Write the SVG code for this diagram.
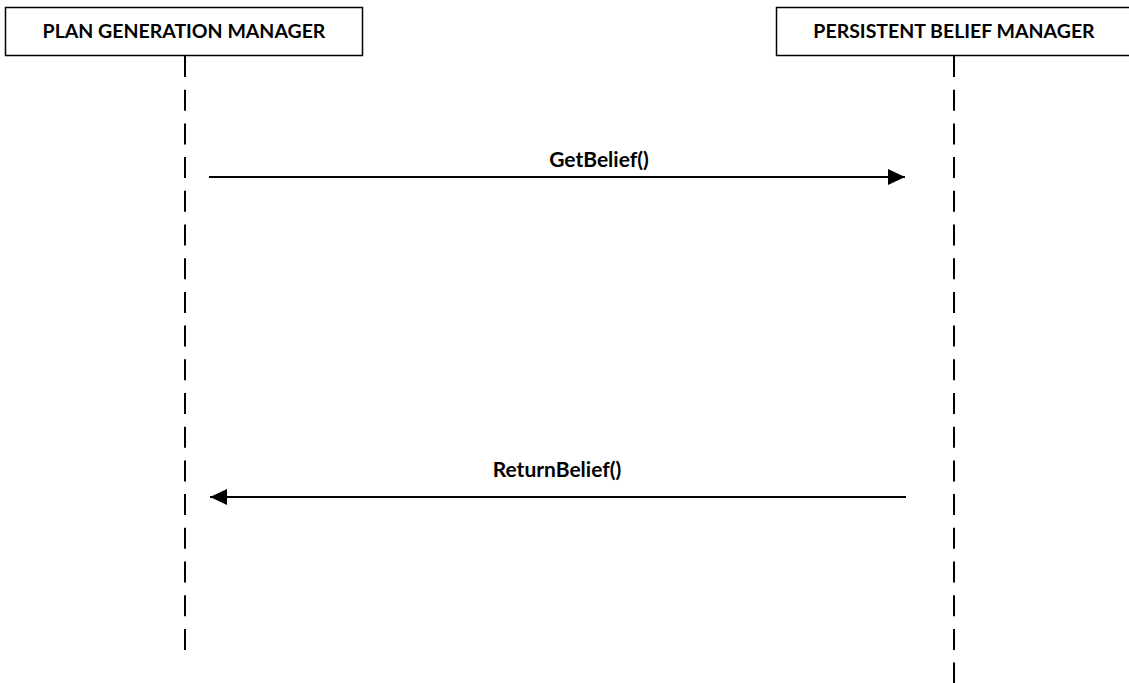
<svg xmlns="http://www.w3.org/2000/svg" width="1129" height="683" viewBox="0 0 1129 683">
<style>
.box{fill:#fff;stroke:#000;stroke-width:1.5}
.life{stroke:#000;stroke-width:2;stroke-dasharray:21 12.7;fill:none}
.msg{stroke:#000;stroke-width:2;fill:none}
.hdr{font-family:Lato,"Liberation Sans",sans-serif;font-weight:700;font-size:19.5px;text-anchor:middle;fill:#000}
.lbl{font-family:Lato,"Liberation Sans",sans-serif;font-weight:700;font-size:21px;text-anchor:middle;fill:#000}
</style>
<defs>
<marker id="ah" viewBox="0 0 17 16" refX="17" refY="8" markerWidth="17" markerHeight="16" markerUnits="userSpaceOnUse" orient="auto">
<path d="M0,0 L17,8 L0,16 Z" fill="#000"/>
</marker>
</defs>
<rect width="1129" height="683" fill="#fff"/>
<g id="pgm">
<rect class="box" x="5.5" y="7.5" width="357" height="48"/>
<text class="hdr" x="184" y="38">PLAN GENERATION MANAGER</text>
<line class="life" x1="185" y1="56" x2="185" y2="650"/>
</g>
<g id="pbm">
<rect class="box" x="776.5" y="7.5" width="357" height="48"/>
<text class="hdr" x="954" y="38">PERSISTENT BELIEF MANAGER</text>
<line class="life" x1="954" y1="56" x2="954" y2="690"/>
</g>
<g id="connectors">
<line class="msg" x1="209" y1="177" x2="905" y2="177" marker-end="url(#ah)"/>
<text class="lbl" x="599" y="167">GetBelief()</text>
<line class="msg" x1="906" y1="497" x2="210" y2="497" marker-end="url(#ah)"/>
<text class="lbl" x="557" y="477">ReturnBelief()</text>
</g>
</svg>
